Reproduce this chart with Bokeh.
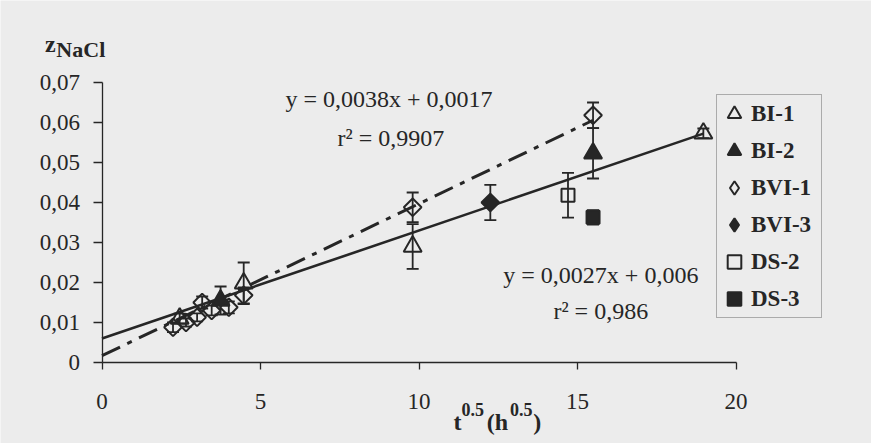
import math
from bokeh.plotting import figure
from bokeh.models import (ColumnDataSource, Whisker, TeeHead, Label, Legend,
                          LegendItem, FixedTicker, CustomJSTickFormatter, Range1d)
from bokeh.embed import file_html
from bokeh.resources import INLINE

INK = "#262626"
FONT = "Liberation Serif"
BG = "#ececec"

# ---------------- data ----------------
bi1_x = [2.45, 4.47, 9.80, 18.97]
bi1_y = [0.0110, 0.0198, 0.0290, 0.0573]
bi1_e = [0.0012, 0.0052, 0.0056, 0.0012]

bi2_x = [3.74, 15.49]
bi2_y = [0.0155, 0.0523]
bi2_e = [0.0035, 0.0063]

bvi1_x = [2.24, 2.65, 3.00, 3.16, 3.46, 4.00, 4.47, 9.80, 15.49]
bvi1_y = [0.0088, 0.0100, 0.0113, 0.0150, 0.0130, 0.0138, 0.0168, 0.0388, 0.0618]
bvi1_e = [0.0012, 0.0010, 0.0010, 0.0015, 0.0012, 0.0015, 0.0020, 0.0037, 0.0032]

bvi3_x = [12.25]
bvi3_y = [0.0400]
bvi3_e = [0.0044]

ds2_x = [14.70]
ds2_y = [0.0418]
ds2_e = [0.0056]

ds3_x = [15.49]
ds3_y = [0.0363]
ds3_e = [0.0018]

# fitted lines
fit_bvi_slope, fit_bvi_icpt = 0.0038, 0.0017
fit_bvi_x = [0.0, 15.49]
fit_bi_slope, fit_bi_icpt = 0.0027, 0.006
fit_bi_x = [0.0, 18.97]

x_ticks = [0, 5, 10, 15, 20]
y_ticks = [0, 0.01, 0.02, 0.03, 0.04, 0.05, 0.06, 0.07]

eq_bvi = "y = 0,0038x + 0,0017"
r2_bvi = "r\u00b2 = 0,9907"
eq_bi = "y = 0,0027x + 0,006"
r2_bi = "r\u00b2 = 0,986"

# ---------------- figure ----------------
# the frame covers the whole canvas; axes sit at x=0 / y=0
p = figure(width=871, height=443, output_backend="svg", toolbar_location=None,
           x_range=Range1d(-3.202, 24.274), y_range=Range1d(-0.02025, 0.0905),
           min_border_left=0, min_border_right=0,
           min_border_top=0, min_border_bottom=0)
p.background_fill_color = BG
p.border_fill_color = BG
p.outline_line_color = None
p.grid.visible = False

for ax in (p.xaxis[0], p.yaxis[0]):
    ax.fixed_location = 0
    ax.axis_line_color = INK
    ax.axis_line_width = 1.3
    ax.major_tick_line_color = INK
    ax.major_tick_line_width = 1.3
    ax.minor_tick_line_color = None
    ax.major_tick_in = 0
    ax.major_label_text_font = FONT
    ax.major_label_text_font_size = "23px"
    ax.major_label_text_color = INK

p.xaxis.ticker = FixedTicker(ticks=x_ticks)
p.xaxis.bounds = (0, 20)
p.xaxis.major_tick_out = 7
p.xaxis.major_label_standoff = 24

p.yaxis.ticker = FixedTicker(ticks=y_ticks)
p.yaxis.bounds = (0, 0.07)
p.yaxis.major_tick_out = 9
p.yaxis.major_label_standoff = 13
p.yaxis.formatter = CustomJSTickFormatter(
    code="return tick == 0 ? '0' : tick.toFixed(2).replace('.', ',');")

# fit lines
p.line(fit_bi_x, [fit_bi_slope * x + fit_bi_icpt for x in fit_bi_x],
       line_color=INK, line_width=2.6)
p.line(fit_bvi_x, [fit_bvi_slope * x + fit_bvi_icpt for x in fit_bvi_x],
       line_color=INK, line_width=3, line_dash="20 8 5 8")

series = [
    ("BI-1", bi1_x, bi1_y, bi1_e, "triangle", 0.0, None, 18, "triangle"),
    ("BI-2", bi2_x, bi2_y, bi2_e, "triangle", 0.0, INK, 18, "triangle"),
    ("BVI-1", bvi1_x, bvi1_y, bvi1_e, "square", math.pi / 4, None, 12.5, "diamond"),
    ("BVI-3", bvi3_x, bvi3_y, bvi3_e, "square", math.pi / 4, INK, 12.5, "diamond"),
    ("DS-2", ds2_x, ds2_y, ds2_e, "square", 0.0, None, 13, "square"),
    ("DS-3", ds3_x, ds3_y, ds3_e, "square", 0.0, INK, 13, "square"),
]

items = []
for name, xs, ys, es, marker, ang, fill, size, leg_marker in series:
    src = ColumnDataSource(dict(x=xs, y=ys,
                                upper=[y + e for y, e in zip(ys, es)],
                                lower=[y - e for y, e in zip(ys, es)]))
    w = Whisker(source=src, base="x", upper="upper", lower="lower",
                dimension="height", line_color=INK, line_width=1.8,
                upper_head=TeeHead(size=12, line_color=INK, line_width=1.8),
                lower_head=TeeHead(size=12, line_color=INK, line_width=1.8))
    p.add_layout(w)
    r = p.scatter("x", "y", source=src, marker=marker, angle=ang, size=size,
                  line_color=INK, line_width=2,
                  fill_color=fill if fill else None)
    if leg_marker == marker:
        items.append(LegendItem(label=name, renderers=[r]))
    else:
        # legend-only glyph (a diamond symbol); it has no visible point
        proxy = p.scatter([float("nan")], [float("nan")], marker=leg_marker,
                          size=size, line_color=INK, line_width=2,
                          fill_color=fill if fill else None)
        items.append(LegendItem(label=name, renderers=[proxy]))

legend = Legend(items=items, location=(716, 125), orientation="vertical",
                glyph_width=34, glyph_height=37, label_height=30, label_width=70,
                spacing=0, padding=0, margin=0, label_standoff=0,
                label_text_font=FONT, label_text_font_size="23px",
                label_text_font_style="bold", label_text_color=INK,
                border_line_color="#6a6a6a", border_line_width=1,
                background_fill_color=BG, background_fill_alpha=1.0)
p.add_layout(legend, "center")

def lab(x, y, text, size, style="normal"):
    p.add_layout(Label(x=x, y=y, text=text, text_font=FONT,
                       text_font_size=size, text_font_style=style,
                       text_color=INK, text_baseline="alphabetic",
                       text_align="left"))

# equations
lab(5.79, 0.0658, eq_bvi, "24px")
lab(7.43, 0.0561, r2_bvi, "24px")
lab(12.66, 0.0218, eq_bi, "24px")
lab(14.24, 0.0130, r2_bi, "24px")

# y axis title  z_NaCl
lab(-1.80, 0.0797, "z", "24px", "bold")
lab(-1.44, 0.0782, "NaCl", "22px", "bold")

# x axis title  t^0.5 (h^0.5)
lab(11.09, -0.0148, "t", "24px", "bold")
lab(11.34, -0.0118, "0.5", "18px", "bold")
lab(12.14, -0.0148, "(h", "24px", "bold")
lab(12.87, -0.0118, "0.5", "18px", "bold")
lab(13.60, -0.0148, ")", "24px", "bold")

open("out.html", "w").write(file_html(p, INLINE))
